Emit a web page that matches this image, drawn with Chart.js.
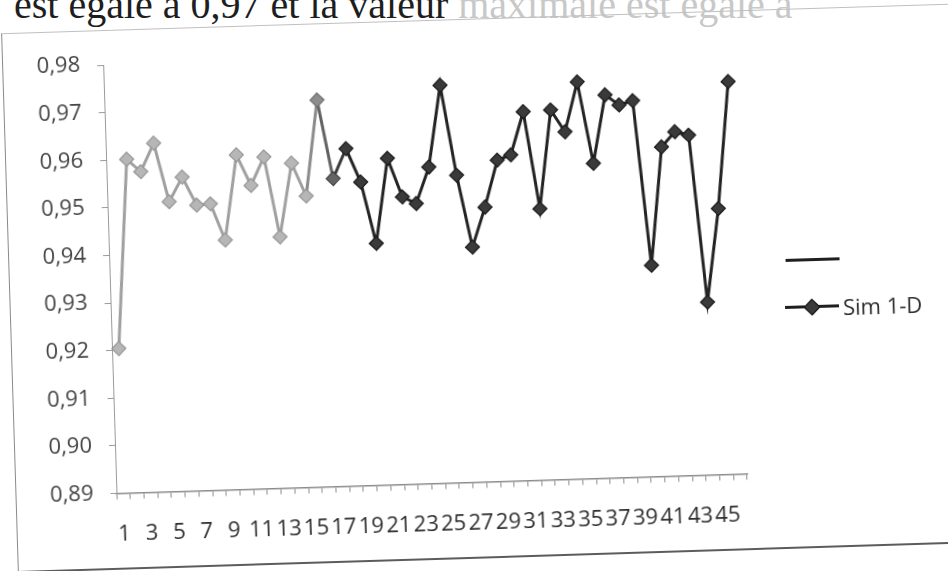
<!DOCTYPE html>
<html>
<head>
<meta charset="utf-8">
<script src="https://cdn.jsdelivr.net/npm/chart.js@4.4.1/dist/chart.umd.min.js"></script>
<style>
  html, body { margin: 0; padding: 0; background: #fff; overflow: hidden; }
  body { width: 948px; height: 571px; position: relative; font-family: "Open Sans", sans-serif; }
  #caption { position: absolute; left: 14px; top: -15px; font: 40px/40px "Liberation Serif", serif; color: #1e1e1e; white-space: nowrap; }
  #caption span { color: #c8c8c8; }
  #page { position: absolute; left: 0; top: 0; width: 948px; height: 571px; transform-origin: 430px 280px; transform: rotate(-1.78deg); }
  #frame { position: absolute; left: 9px; top: 20px; width: 980px; height: 537px; border-left: 1.5px solid #8a8a8a; border-top: 1px solid #c0c0c0; border-bottom: 2px solid #5c5c5c; }
  #chartBox { position: absolute; left: 10px; top: 25px; width: 938px; height: 532px; }
  .lg-line { position: absolute; width: 54px; height: 3px; background: #1f1f1f; }
  .lg-diamond { position: absolute; width: 10px; height: 10px; background: #3a3a3a; border: 1px solid #111; transform: rotate(45deg); }
  .lg-text { position: absolute; font: 22px/30px "Open Sans", sans-serif; color: #2e2e2e; white-space: nowrap; }
</style>
</head>
<body>
<div id="caption">est égale à 0,97 et la valeur <span>maximale est égale à</span></div>
<div id="page">
  <div id="frame"></div>
  <div id="chartBox"><canvas id="chart"></canvas></div>
  <div class="lg-line" style="left:786px; top:270px;"></div>
  <div class="lg-line" style="left:784px; top:317px;"></div>
  <div class="lg-diamond" style="left:805px; top:312.5px;"></div>
  <div class="lg-text" style="left:842px; top:304px;">Sim 1-D</div>
</div>
<script>
// Simulation run index (x axis)
const categories = ['1','2','3','4','5','6','7','8','9','10','11','12','13','14','15','16',
  '17','18','19','20','21','22','23','24','25','26','27','28','29','30','31','32',
  '33','34','35','36','37','38','39','40','41','42','43','44','45','46'];

// Sim 1-D result for each run
const simValues = [0.9204, 0.9601, 0.9574, 0.9633, 0.9509, 0.9560, 0.9500, 0.9502,
  0.9425, 0.9603, 0.9538, 0.9597, 0.9428, 0.9582, 0.9512, 0.9713, 0.9547, 0.9609,
  0.9538, 0.9408, 0.9586, 0.9504, 0.9489, 0.9565, 0.9736, 0.9546, 0.9394, 0.9477,
  0.9575, 0.9585, 0.9675, 0.9470, 0.9677, 0.9630, 0.9734, 0.9562, 0.9705, 0.9683,
  0.9691, 0.9344, 0.9592, 0.9623, 0.9615, 0.9263, 0.9459, 0.9725];

// Value axis ticks
const yTicks = [0.89, 0.90, 0.91, 0.92, 0.93, 0.94, 0.95, 0.96, 0.97, 0.98];

const FONT = { family: 'Open Sans', size: 22 };

// Print tone: the early runs come out in grey ink, the later ones in dark ink
function inkAt(i, lift) {
  const t = Math.min(1, Math.max(0, (i - 14) / 3));
  const g = Math.round(160 - t * (160 - 36) + (lift || 0));
  return 'rgb(' + g + ',' + g + ',' + g + ')';
}

new Chart(document.getElementById('chart'), {
  type: 'line',
  data: {
    labels: categories,
    datasets: [{
      label: 'Sim 1-D',
      data: simValues,
      borderWidth: 3,
      borderColor: '#262626',
      tension: 0,
      pointStyle: 'rectRot',
      pointRadius: 7,
      pointBorderWidth: 1.2,
      pointBackgroundColor: ctx => inkAt(ctx.dataIndex, 22),
      pointBorderColor: ctx => inkAt(ctx.dataIndex, -10),
      segment: {
        borderColor: ctx => inkAt((ctx.p0DataIndex + ctx.p1DataIndex) / 2)
      }
    }]
  },
  options: {
    responsive: true,
    maintainAspectRatio: false,
    animation: false,
    devicePixelRatio: 1,
    layout: { padding: { left: 30, top: 30, right: 207, bottom: 13.5 } },
    plugins: { legend: { display: false }, tooltip: { enabled: false } },
    scales: {
      x: {
        type: 'category',
        offset: true,
        grid: { offset: true, drawOnChartArea: false, drawTicks: true, tickLength: 6, color: '#8c8c8c', lineWidth: 1 },
        border: { display: true, color: '#8c8c8c', width: 1.5 },
        ticks: {
          autoSkip: false, maxRotation: 0, minRotation: 0, padding: 22,
          color: '#2e2e2e', font: FONT,
          callback: (v, i) => (i % 2 === 0 ? categories[i] : '')
        },
        afterFit: s => { s.height = 60; }
      },
      y: {
        min: 0.89,
        max: 0.98,
        afterBuildTicks: s => { s.ticks = yTicks.map(v => ({ value: v })); },
        grid: { drawOnChartArea: false, drawTicks: true, tickLength: 6, color: '#9a9a9a' },
        border: { display: true, color: '#9a9a9a', width: 1 },
        ticks: {
          padding: 17, color: '#444', font: FONT,
          callback: v => Number(v).toFixed(2).replace('.', ',')
        },
        afterFit: s => { s.width = 70; }
      }
    }
  }
});
</script>
</body>
</html>
